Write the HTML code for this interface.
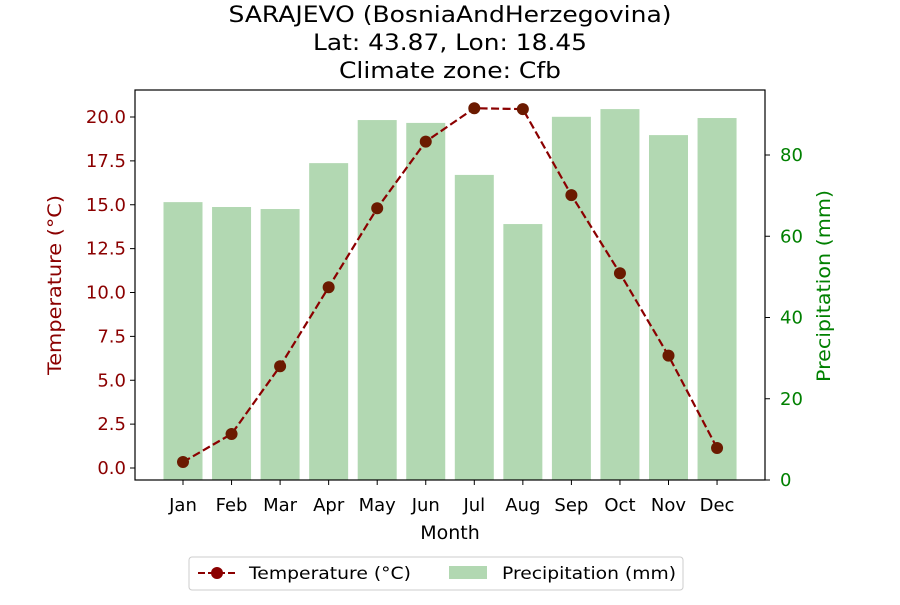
<!DOCTYPE html>
<html><head><meta charset="utf-8"><style>
body{margin:0;background:#fff;font-family:"Liberation Sans","DejaVu Sans",sans-serif;}
svg text{font-family:"DejaVu Sans","Liberation Sans",sans-serif;}
</style></head><body>
<svg id="chart" width="900" height="600" xmlns="http://www.w3.org/2000/svg">
<g font-size="22" text-anchor="middle" fill="#000">
<text x="450" y="22" textLength="443" lengthAdjust="spacingAndGlyphs">SARAJEVO (BosniaAndHerzegovina)</text>
<text x="450" y="50" textLength="274" lengthAdjust="spacingAndGlyphs">Lat: 43.87, Lon: 18.45</text>
<text x="450" y="78" textLength="222" lengthAdjust="spacingAndGlyphs">Climate zone: Cfb</text>
</g>
<g id="bars"></g>
<g id="line"></g>
<rect x="135" y="90" width="630" height="390" fill="none" stroke="#000" stroke-width="1.2"/>
<g id="xaxis" font-size="18" text-anchor="middle"></g>
<g id="yleft" font-size="18" text-anchor="end" fill="#8b0000"></g>
<g id="yright" font-size="18" fill="#008000"></g>
<text x="450" y="539" font-size="19" text-anchor="middle">Month</text>
<text transform="translate(61,285) rotate(-90)" font-size="19" text-anchor="middle" fill="#8b0000" textLength="180" lengthAdjust="spacingAndGlyphs">Temperature (°C)</text>
<text transform="translate(830,286) rotate(-90)" font-size="19" text-anchor="middle" fill="#008000" textLength="192" lengthAdjust="spacingAndGlyphs">Precipitation (mm)</text>
<g>
<rect x="189" y="557" width="494" height="33" fill="#fff" stroke="#ccc" rx="3"/>
<g>
<line x1="198" y1="573" x2="236" y2="573" stroke="#8b0000" stroke-width="2" stroke-dasharray="7,3"/>
<circle cx="217" cy="573" r="6" fill="#8b0000"/>
<text x="249" y="579" font-size="17" textLength="162" lengthAdjust="spacingAndGlyphs">Temperature (°C)</text>
</g>
<g>
<rect x="449" y="566" width="38" height="13" fill="#b2d8b2"/>
<text x="502" y="579" font-size="17" textLength="174" lengthAdjust="spacingAndGlyphs">Precipitation (mm)</text>
</g>
</g>
</svg>
<script>
const months=["Jan","Feb","Mar","Apr","May","Jun","Jul","Aug","Sep","Oct","Nov","Dec"];
const temps=[0.34,1.94,5.8,10.3,14.8,18.6,20.5,20.45,15.55,11.1,6.4,1.14];
const precip=[68.4,67.2,66.7,78,88.6,87.9,75.1,63,89.4,91.3,84.9,89.1];
const tempTicks=["0.0","2.5","5.0","7.5","10.0","12.5","15.0","17.5","20.0"];
const precipTicks=["0","20","40","60","80"];
const NS="http://www.w3.org/2000/svg";
const xs=i=>183+48.55*i;
const yT=v=>468-17.55*v;
const yP=v=>480-4.0625*v;
function mk(tag,attrs,parent){const e=document.createElementNS(NS,tag);for(const k in attrs)e.setAttribute(k,attrs[k]);parent.appendChild(e);return e;}
const bars=document.getElementById('bars');
precip.forEach((p,i)=>{const r=mk('rect',{x:xs(i)-19.5,y:yP(p),width:39,height:yP(0)-yP(p),fill:'#b2d8b2'},bars);

});
const line=document.getElementById('line');
mk('polyline',{points:temps.map((t,i)=>xs(i)+','+yT(t)).join(' '),fill:'none',stroke:'#8b0000','stroke-width':2.2,'stroke-dasharray':'8,3.5'},line);
temps.forEach((t,i)=>{const c=mk('circle',{cx:xs(i),cy:yT(t),r:6,fill:'#6b1a00'},line);

});
const xa=document.getElementById('xaxis');
months.forEach((m,i)=>{mk('line',{x1:xs(i),x2:xs(i),y1:480,y2:485,stroke:'#000'},xa);const t=mk('text',{x:xs(i),y:511},xa);t.textContent=m;

});
const yl=document.getElementById('yleft');
tempTicks.forEach(s=>{const v=parseFloat(s);mk('line',{x1:130,x2:135,y1:yT(v),y2:yT(v),stroke:'#000'},yl);const t=mk('text',{x:126,y:yT(v)+6},yl);t.textContent=s;

});
const yr=document.getElementById('yright');
precipTicks.forEach(s=>{const v=parseFloat(s);mk('line',{x1:765,x2:770,y1:yP(v),y2:yP(v),stroke:'#000'},yr);const t=mk('text',{x:780,y:yP(v)+6},yr);t.textContent=s;

});
</script>
</body></html>
